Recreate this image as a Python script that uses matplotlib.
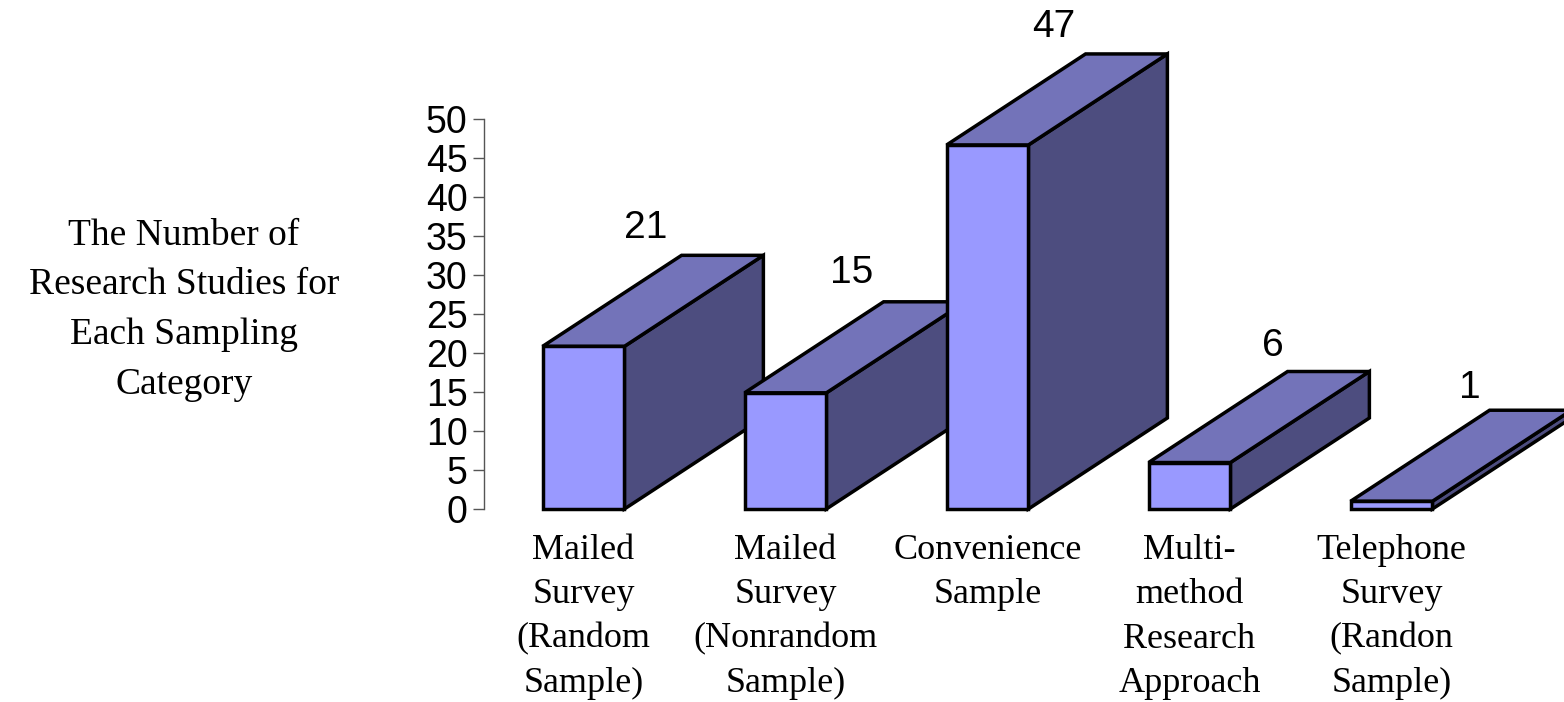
import matplotlib
matplotlib.use("Agg")
import matplotlib.pyplot as plt
from matplotlib.patches import Polygon

# Values
categories = [
    "Mailed\nSurvey\n(Random\nSample)",
    "Mailed\nSurvey\n(Nonrandom\nSample)",
    "Convenience\nSample",
    "Multi-\nmethod\nResearch\nApproach",
    "Telephone\nSurvey\n(Randon\nSample)",
]
studies = [21, 15, 47, 6, 1]
y_ticks = [0, 5, 10, 15, 20, 25, 30, 35, 40, 45, 50]
y_title = "The Number of\nResearch Studies for\nEach Sampling\nCategory"

FRONT = "#9999FF"
TOP = "#7373B9"
SIDE = "#4D4D7F"
W, H = 1564, 702

fig = plt.figure(figsize=(W / 100, H / 100), dpi=100)
# axes box in pixels: spine at x=484, y runs from 509 (0) to 119 (50)
ax = fig.add_axes([484 / W, (H - 509) / H, 1006 / W, 390 / H])
ax.set_xlim(-0.4926, 4.4876)
ax.set_ylim(0, 50)

bar_w = 0.405
depth_x = 0.688
depth_y = 11.67
height_scale = 0.993  # the bars sit a touch under the tick scale in the original
edge = dict(edgecolor="black", linewidth=2.5, joinstyle="miter", clip_on=False)
# value labels are not placed evenly in the original, nudges in pixels
nudge_x = [-7, -3, -3, 14, 9]
nudge_y = [3, 1, 3, 4, 8]

# Painted left to right so each bar covers the back of the one before it
for i, v in enumerate(studies):
    left, right = i - bar_w / 2, i + bar_w / 2
    h = v * height_scale
    side = [(right, 0), (right + depth_x, depth_y), (right + depth_x, h + depth_y), (right, h)]
    top = [(left, h), (left + depth_x, h + depth_y), (right + depth_x, h + depth_y), (right, h)]
    front = [(left, 0), (right, 0), (right, h), (left, h)]
    ax.add_patch(Polygon(side, facecolor=SIDE, zorder=3 + i, **edge))
    ax.add_patch(Polygon(top, facecolor=TOP, zorder=3 + i, **edge))
    ax.add_patch(Polygon(front, facecolor=FRONT, zorder=3 + i, **edge))
    ax.annotate(str(v), (i + depth_x / 2, h + depth_y),
                xytext=(nudge_x[i] * 0.72, 21.5 - nudge_y[i] * 0.72),
                textcoords="offset points", ha="center", va="center",
                family="Liberation Sans", fontsize=28, color="black", zorder=20,
                annotation_clip=False)

ax.set_yticks(y_ticks)
ax.set_xticks(range(len(categories)))
ax.set_xticklabels(categories, family="Liberation Serif", fontsize=26,
                   linespacing=1.45, va="top")
ax.tick_params(axis="x", length=0, pad=18)
ax.tick_params(axis="y", length=7.7, width=1, color="#555555", pad=4, labelsize=27)
for label in ax.get_yticklabels():
    label.set_family("Liberation Sans")

for name in ["top", "right", "bottom"]:
    ax.spines[name].set_visible(False)
ax.spines["left"].set_color("#555555")
ax.spines["left"].set_linewidth(1)

fig.text(184 / W, (H - 310) / H, y_title, family="Liberation Serif", fontsize=27,
         ha="center", va="center", linespacing=1.57)

fig.savefig("out.png", dpi=100)
